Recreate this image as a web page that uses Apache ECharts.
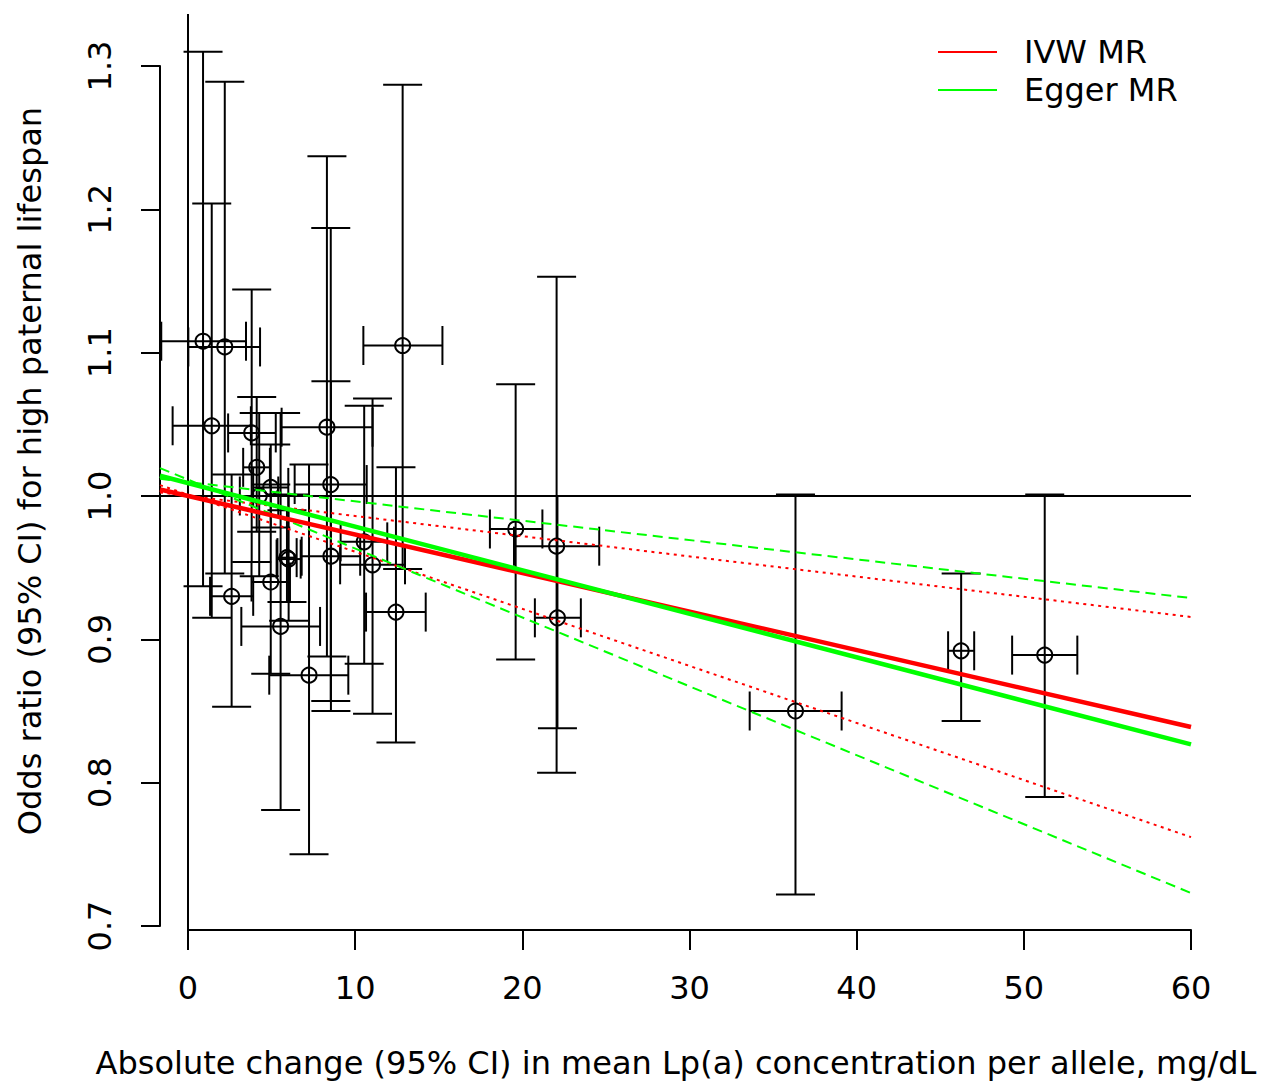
<!DOCTYPE html>
<html>
<head>
<meta charset="utf-8">
<script src="https://cdn.jsdelivr.net/npm/echarts@6/dist/echarts.min.js"></script>
<style>
html,body{margin:0;padding:0;background:#fff;}
#chart{width:1262px;height:1086px;}
</style>
</head>
<body>
<div id="chart"></div>
<script>
// ---- Data ----
// Per-variant effect on Lp(a) (mg/dL per allele) with 95% CI
const snpX   = [0.90, 2.20, 1.42, 3.81, 4.11, 4.95, 4.26, 5.92, 6.02, 4.95, 2.61, 5.54, 8.31, 8.54, 8.55, 10.54, 11.04, 12.84, 12.44, 7.24, 19.60, 22.05, 22.10, 36.34, 46.25, 51.25];
const snpXLo = [-1.60, 0.02, -0.92, 2.40, 3.30, 3.90, 3.10, 5.35, 5.30, 3.80, 1.32, 3.19, 5.60, 6.38, 6.80, 9.13, 9.10, 10.49, 10.65, 4.86, 18.06, 19.50, 20.75, 33.60, 45.47, 49.30];
const snpXHi = [3.47, 4.31, 3.76, 5.25, 4.90, 6.00, 5.40, 6.50, 6.74, 6.10, 3.90, 7.90, 11.04, 10.69, 10.30, 11.92, 12.98, 15.22, 14.22, 9.59, 21.20, 24.60, 23.50, 39.10, 47.03, 53.20];
// Odds ratio for high paternal lifespan with 95% CI
const snpOR   = [1.108, 1.104, 1.049, 1.044, 1.020, 1.006, 1.000, 0.957, 0.956, 0.940, 0.930, 0.909, 1.048, 1.008, 0.958, 0.968, 0.952, 1.105, 0.919, 0.875, 0.977, 0.965, 0.915, 0.850, 0.892, 0.889];
const snpORLo = [0.937, 0.946, 0.915, 0.954, 0.975, 0.978, 0.944, 0.926, 0.913, 0.876, 0.853, 0.781, 0.888, 0.857, 0.850, 0.883, 0.848, 0.949, 0.828, 0.750, 0.886, 0.807, 0.838, 0.722, 0.843, 0.790];
const snpORHi = [1.310, 1.289, 1.204, 1.144, 1.069, 1.036, 1.058, 0.990, 1.001, 1.008, 1.015, 1.058, 1.237, 1.187, 1.080, 1.063, 1.068, 1.287, 1.020, 1.022, 1.078, 1.153, 1.000, 1.001, 0.946, 1.001];

// Fitted lines (values at the two ends of the plotted x range)
const fitX        = [-1.675, 60];
const ivwFit      = [1.0045, 0.8388];
const ivwUpper    = [1.0025, 0.9156];
const ivwLower    = [1.0076, 0.7620];
const eggerFit    = [1.0141, 0.8267];
const eggerUpper  = [1.0120, 0.9288];
const eggerLower  = [1.0195, 0.7230];

// Reference lines
const refH = { x: [-1.675, 60], y: [1, 1] };
const refV = { x: [0, 0], y: [0.6972, 1.3363] };

// Axis ticks
const xTicks = { min: 0, max: 60, step: 10 };
const yTicks = { min: 0.7, max: 1.3, step: 0.1 };

// Text
const xTitle = 'Absolute change (95% CI) in mean Lp(a) concentration per allele, mg/dL';
const yTitle = 'Odds ratio (95% CI) for high paternal lifespan';
const legendNames = ['IVW MR', 'Egger MR'];

const FONT = 'DejaVu Sans';
const FS = 32;
const pair = (xs, ys) => xs.map((x, i) => [x, ys[i]]);

const errData = snpX.map((x, i) => [x, snpXLo[i], snpXHi[i], snpOR[i], snpORLo[i], snpORHi[i]]);

function renderErr(params, api) {
  const x = api.value(0), xl = api.value(1), xh = api.value(2);
  const y = api.value(3), yl = api.value(4), yh = api.value(5);
  const c = api.coord([x, y]);
  const top = api.coord([x, yh]);
  const bot = api.coord([x, yl]);
  const l = api.coord([xl, y]);
  const r = api.coord([xh, y]);
  const cap = 19.5;
  const st = { stroke: '#000', lineWidth: 2, fill: null };
  const ln = (x1, y1, x2, y2) => ({ type: 'line', shape: { x1, y1, x2, y2 }, style: st });
  return {
    type: 'group',
    children: [
      ln(top[0], top[1], bot[0], bot[1]),
      ln(top[0] - cap, top[1], top[0] + cap, top[1]),
      ln(bot[0] - cap, bot[1], bot[0] + cap, bot[1]),
      ln(l[0], l[1], r[0], r[1]),
      ln(l[0], l[1] - cap, l[0], l[1] + cap),
      ln(r[0], r[1] - cap, r[0], r[1] + cap),
      { type: 'circle', shape: { cx: c[0], cy: c[1], r: 7.5 }, style: { stroke: '#000', lineWidth: 2, fill: 'rgba(0,0,0,0)' } }
    ]
  };
}

const chart = echarts.init(document.getElementById('chart'), null, { renderer: 'svg' });

const option = {
  animation: false,
  backgroundColor: '#fff',
  textStyle: { fontFamily: FONT },
  grid: [
    { left: 160, right: 71, top: 14, bottom: 156, containLabel: false, outerBoundsMode: 'none' },
    { left: 160, right: 71, top: 66, bottom: 160, containLabel: false, outerBoundsMode: 'none' },
    { left: 188, right: 71, top: 14, bottom: 156, containLabel: false, outerBoundsMode: 'none' }
  ],
  xAxis: [
    { gridIndex: 0, type: 'value', min: -1.675, max: 60, show: false },
    { gridIndex: 1, type: 'value', min: 0, max: 1, show: false },
    { gridIndex: 2, type: 'value', min: xTicks.min, max: xTicks.max, interval: xTicks.step,
      axisLine: { show: true, lineStyle: { color: '#000', width: 2 } },
      axisTick: { show: true, length: 20, lineStyle: { color: '#000', width: 2 } },
      axisLabel: { color: '#000', fontSize: FS, fontFamily: FONT, margin: 42 },
      splitLine: { show: false }
    }
  ],
  yAxis: [
    { gridIndex: 0, type: 'value', min: 0.6972, max: 1.3363, show: false },
    { gridIndex: 1, type: 'value', min: yTicks.min, max: yTicks.max, interval: yTicks.step,
      axisLine: { show: true, lineStyle: { color: '#000', width: 2 } },
      axisTick: { show: true, length: 19, lineStyle: { color: '#000', width: 2 } },
      axisLabel: { color: '#000', fontSize: FS, fontFamily: FONT, rotate: 90, margin: 44,
        formatter: v => v.toFixed(1) },
      splitLine: { show: false }
    },
    { gridIndex: 2, type: 'value', min: 0, max: 1, show: false }
  ],
  graphic: [
    { type: 'text', x: 676, y: 1063, silent: true,
      style: { text: xTitle, fill: '#000', font: FS + 'px "' + FONT + '"', textAlign: 'center', textVerticalAlign: 'middle' } },
    { type: 'text', x: 30, y: 471, rotation: Math.PI / 2, silent: true,
      style: { text: yTitle, fill: '#000', font: FS + 'px "' + FONT + '"', textAlign: 'center', textVerticalAlign: 'middle' } }
  ],
  legend: {
    data: legendNames,
    orient: 'vertical', left: 938, top: 36, padding: 0,
    icon: 'rect', itemWidth: 59, itemHeight: 2, itemGap: 6,
    textStyle: { color: '#000', fontSize: FS, fontFamily: FONT, lineHeight: 32, padding: [0, 0, 0, 22] }
  },
  series: [
    { type: 'line', name: 'refH', xAxisIndex: 0, yAxisIndex: 0, data: pair(refH.x, refH.y),
      symbol: 'none', silent: true, lineStyle: { color: '#000', width: 2 }, z: 1 },
    { type: 'line', name: 'refV', xAxisIndex: 0, yAxisIndex: 0, data: pair(refV.x, refV.y),
      symbol: 'none', silent: true, lineStyle: { color: '#000', width: 2 }, z: 1 },
    { type: 'custom', name: 'variants', xAxisIndex: 0, yAxisIndex: 0, data: errData,
      renderItem: renderErr, encode: { x: [0, 1, 2], y: [3, 4, 5] }, z: 2 },
    { type: 'line', name: 'IVW upper', data: pair(fitX, ivwUpper), symbol: 'none',
      lineStyle: { color: '#ff0000', width: 2, type: [3, 4.5] }, z: 3 },
    { type: 'line', name: 'IVW lower', data: pair(fitX, ivwLower), symbol: 'none',
      lineStyle: { color: '#ff0000', width: 2, type: [3, 4.5] }, z: 3 },
    { type: 'line', name: 'Egger upper', data: pair(fitX, eggerUpper), symbol: 'none',
      lineStyle: { color: '#00ff00', width: 2, type: [10, 6] }, z: 3 },
    { type: 'line', name: 'Egger lower', data: pair(fitX, eggerLower), symbol: 'none',
      lineStyle: { color: '#00ff00', width: 2, type: [10, 6] }, z: 3 },
    { type: 'line', name: legendNames[0], data: pair(fitX, ivwFit), symbol: 'none',
      color: '#ff0000', lineStyle: { color: '#ff0000', width: 4.5 }, z: 4 },
    { type: 'line', name: legendNames[1], data: pair(fitX, eggerFit), symbol: 'none',
      color: '#00ff00', lineStyle: { color: '#00ff00', width: 4.5 }, z: 4 }
  ]
};
chart.setOption(option);
</script>
</body>
</html>
